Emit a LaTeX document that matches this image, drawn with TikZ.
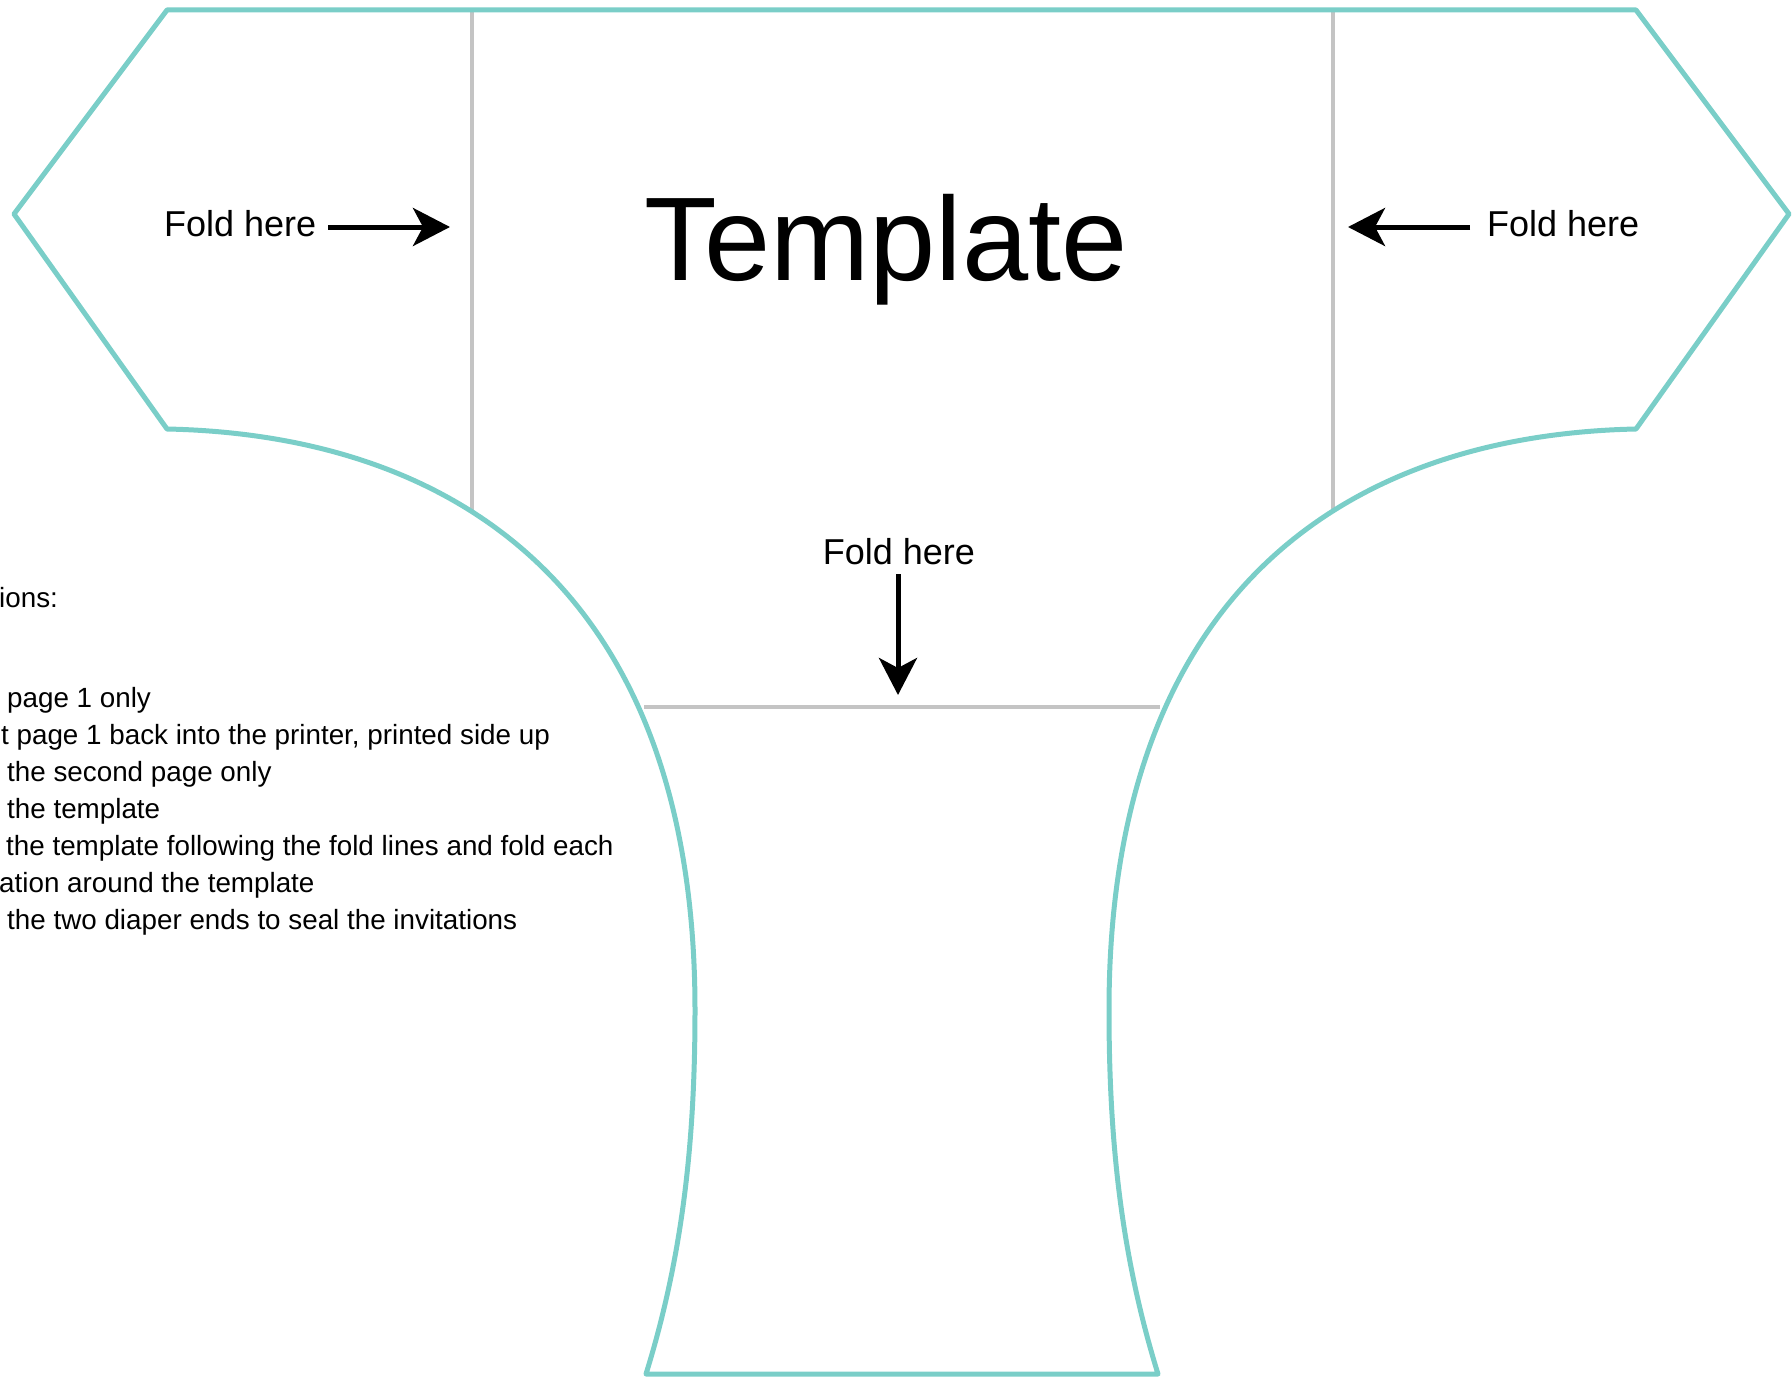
\documentclass[tikz,border=0pt]{standalone}
\usepackage{fontspec}
\setmainfont{Liberation Sans}
\usetikzlibrary{arrows.meta}
\definecolor{tealline}{RGB}{122,206,200}
\definecolor{foldgray}{RGB}{196,196,196}
\begin{document}
\begin{tikzpicture}[x=1pt,y=-1pt,
  outline/.style={draw=tealline, line width=5pt, line join=round},
  foldline/.style={draw=foldgray, line width=3.2pt},
  foldarrow/.style={draw=black, line width=5pt, -{Stealth[length=37pt,width=38pt,inset=10pt]}},
  foldlabel/.style={font=\fontsize{36}{43}\selectfont, inner sep=0pt},
  instr/.style={font=\fontsize{27.8}{33}\selectfont, inner sep=0pt, anchor=base west}]
\useasboundingbox (0,0) rectangle (1792,1378);
% outline corners
\coordinate (TL) at (167,10);
\coordinate (TR) at (1636,10);
\coordinate (LP) at (14,214);
\coordinate (RP) at (1789,214);
\coordinate (BLc) at (167,429);
\coordinate (BRc) at (1636,429);
\coordinate (ML) at (695,1010);
\coordinate (MR) at (1109,1010);
\coordinate (BL) at (646,1374);
\coordinate (BR) at (1158,1374);
% fold lines
\coordinate (FLt) at (472,10);
\coordinate (FLb) at (472,513);
\coordinate (FRt) at (1333,10);
\coordinate (FRb) at (1333,513);
\coordinate (FHl) at (644,707);
\coordinate (FHr) at (1160,707);
\draw[foldline] (FLt) -- (FLb);
\draw[foldline] (FRt) -- (FRb);
\draw[foldline] (FHl) -- (FHr);
% outline
\draw[outline] (TL) -- (TR) -- (RP) -- (BRc)
  .. controls (1354,435) and (1109,585) .. (MR)
  .. controls (1109,1140) and (1121,1255) .. (BR)
  -- (BL)
  .. controls (683,1255) and (695,1140) .. (ML)
  .. controls (695,585) and (450,435) .. (BLc)
  -- (LP) -- cycle;
% title
\node[font=\fontsize{119}{142}\selectfont, inner sep=0pt, anchor=base] (title) at (886,280) {Template};
% fold labels and arrows
\node[foldlabel, anchor=base west] (fl) at (164,236) {Fold here};
\coordinate (flA) at (328,227);
\coordinate (flB) at (450,227);
\draw[foldarrow] (flA) -- (flB);
\node[foldlabel, anchor=base west] (fr) at (1487,236) {Fold here};
\coordinate (frA) at (1470,227);
\coordinate (frB) at (1348,227);
\draw[foldarrow] (frA) -- (frB);
\node[foldlabel, anchor=base] (fm) at (899,564) {Fold here};
\coordinate (fmA) at (898,574);
\coordinate (fmB) at (898,695);
\draw[foldarrow] (fmA) -- (fmB);
% instructions (clipped at left edge)
\node[instr] (i0) at (-1,607) {ions:};
\node[instr] (i1) at (7,707) {page 1 only};
\node[instr] (i2) at (1,744) {t page 1 back into the printer, printed side up};
\node[instr] (i3) at (7,781) {the second page only};
\node[instr] (i4) at (7,818) {the template};
\node[instr] (i5) at (6,855) {the template following the fold lines and fold each};
\node[instr] (i6) at (-1,892) {ation around the template};
\node[instr] (i7) at (7,929) {the two diaper ends to seal the invitations};
\end{tikzpicture}
\end{document}
